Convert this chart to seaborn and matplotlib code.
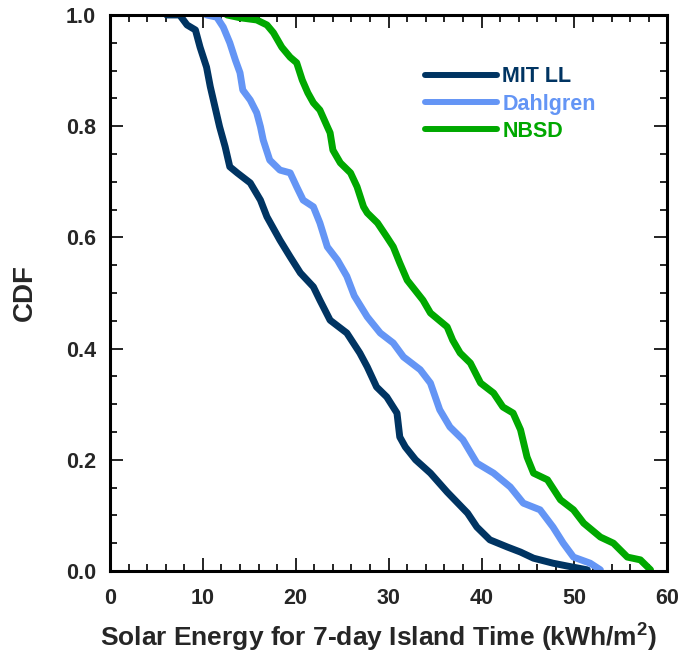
import numpy as np
import pandas as pd
import matplotlib
matplotlib.use("Agg")
import matplotlib.pyplot as plt
import seaborn as sns
from matplotlib.ticker import MultipleLocator, FormatStrFormatter

sns.set_style("white")
plt.rcParams['font.family'] = ['Liberation Sans', 'DejaVu Sans']
plt.rcParams['font.weight'] = 'bold'
plt.rcParams['mathtext.fontset'] = 'custom'
plt.rcParams['mathtext.bf'] = 'Liberation Sans:bold'
plt.rcParams['mathtext.rm'] = 'Liberation Sans:bold'

series_names = ["MIT LL", "Dahlgren", "NBSD"]
colors = ["#003462", "#6495F5", "#00A800"]

mit_x = [6.1, 7.5, 8.3, 9.2, 9.7, 10.4, 10.8, 11.3, 11.8, 12.4, 12.9, 13.7, 15.1, 16.2, 16.9,
         18.3, 19.4, 20.5, 21.9, 22.6, 23.7, 25.5, 26.9, 27.7, 28.7, 29.8, 30.9, 31.2, 31.8,
         32.9, 34.5, 36.3, 38.5, 39.5, 40.9, 42.8, 44.2, 45.6, 47.7, 49.2, 51.4]
mit_y = [1.0, 1.0, 0.982, 0.973, 0.942, 0.906, 0.871, 0.835, 0.799, 0.763, 0.727, 0.716, 0.698, 0.667, 0.637,
         0.595, 0.565, 0.536, 0.511, 0.487, 0.451, 0.428, 0.392, 0.367, 0.331, 0.313, 0.284, 0.241, 0.223,
         0.200, 0.176, 0.142, 0.104, 0.079, 0.056, 0.043, 0.034, 0.023, 0.014, 0.009, 0.002]

dahl_x = [10.4, 11.5, 12.2, 12.9, 13.5, 14.0, 14.3, 15.1, 15.8, 16.2, 16.5, 17.2, 18.3, 19.4, 20.1,
          20.8, 21.9, 22.6, 23.4, 24.5, 25.5, 26.3, 27.7, 29.1, 30.5, 31.6, 33.4, 34.5, 35.5, 36.6,
          38.0, 39.5, 41.3, 43.1, 44.5, 46.3, 47.7, 48.8, 49.9, 51.7, 52.8]
dahl_y = [1.0, 0.996, 0.978, 0.95, 0.919, 0.896, 0.865, 0.847, 0.824, 0.799, 0.775, 0.739, 0.721, 0.716, 0.691,
          0.667, 0.655, 0.626, 0.583, 0.559, 0.530, 0.495, 0.457, 0.428, 0.41, 0.385, 0.362, 0.338, 0.29, 0.259,
          0.236, 0.194, 0.176, 0.151, 0.122, 0.11, 0.079, 0.05, 0.025, 0.014, 0.002]

nbsd_x = [12.6, 14.0, 15.8, 16.9, 17.6, 18.5, 19.4, 20.1, 20.7, 21.3, 21.9, 22.6, 23.4, 23.7, 24.0,
          24.8, 25.9, 26.6, 27.3, 27.7, 28.8, 29.8, 30.5, 31.2, 32.0, 33.7, 34.5, 36.3, 36.9, 37.7,
          38.8, 39.9, 41.3, 42.3, 43.4, 44.2, 44.9, 45.6, 47.1, 48.5, 49.9, 51.0, 52.8, 54.2, 55.7,
          57.1, 58.2]
nbsd_y = [1.0, 0.995, 0.991, 0.982, 0.968, 0.942, 0.924, 0.914, 0.883, 0.86, 0.842, 0.829, 0.799, 0.788, 0.757,
          0.734, 0.716, 0.691, 0.655, 0.644, 0.626, 0.601, 0.583, 0.554, 0.523, 0.487, 0.464, 0.439, 0.415, 0.392,
          0.374, 0.338, 0.32, 0.295, 0.284, 0.254, 0.205, 0.176, 0.164, 0.128, 0.11, 0.086, 0.061, 0.05, 0.025,
          0.02, 0.002]

df = pd.concat([
    pd.DataFrame({"x": mit_x, "y": mit_y, "site": series_names[0]}),
    pd.DataFrame({"x": dahl_x, "y": dahl_y, "site": series_names[1]}),
    pd.DataFrame({"x": nbsd_x, "y": nbsd_y, "site": series_names[2]}),
])

fig = plt.figure(figsize=(6.83, 6.56), dpi=100)
ax = fig.add_axes([0.161, 0.1296, 0.816, 0.8476])

sns.lineplot(data=df, x="x", y="y", hue="site", palette=dict(zip(series_names, colors)),
             linewidth=5, ax=ax, sort=False, estimator=None)

ax.set_xlim(0, 60)
ax.set_ylim(0, 1.0)
ax.xaxis.set_major_locator(MultipleLocator(10))
ax.xaxis.set_minor_locator(MultipleLocator(2))
ax.yaxis.set_major_locator(MultipleLocator(0.2))
ax.yaxis.set_minor_locator(MultipleLocator(0.05))
ax.yaxis.set_major_formatter(FormatStrFormatter('%.1f'))
ax.tick_params(which='both', direction='in', top=True, right=True, bottom=True, left=True,
               color='black', width=1.2)
ax.tick_params(which='major', length=9.5, labelsize=15.5)
ax.tick_params(which='minor', length=5)
ax.tick_params(axis='x', which='major', pad=12)
ax.tick_params(axis='y', which='major', pad=10)
for lbl in ax.get_xticklabels() + ax.get_yticklabels():
    lbl.set_fontweight('bold')
for sp in ax.spines.values():
    sp.set_linewidth(2.2)
    sp.set_color('black')

ax.set_xlabel("Solar Energy for 7-day Island Time (kWh/m$^{2}$)", fontsize=19, fontweight='bold', labelpad=12)
ax.xaxis.set_label_coords(0.482, -0.088)
ax.set_ylabel("CDF", fontsize=20, fontweight='bold', labelpad=20)

leg = ax.legend(loc='upper left', bbox_to_anchor=(0.565, 0.908), frameon=False,
                handlelength=3.35, handletextpad=0.25, labelspacing=0.3, labelcolor='linecolor',
                borderpad=0, borderaxespad=0,
                prop={'weight': 'bold', 'size': 15.5})
for h in leg.get_lines():
    h.set_linewidth(4.3)

fig.savefig("out.png", dpi=100)
